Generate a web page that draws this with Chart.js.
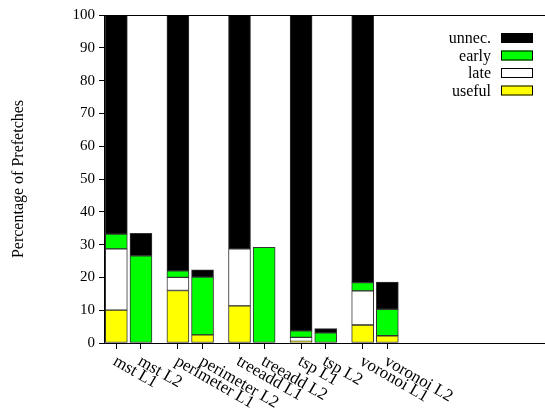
<!DOCTYPE html>
<html>
<head>
<meta charset="utf-8">
<script src="https://cdn.jsdelivr.net/npm/chart.js@4/dist/chart.umd.min.js"></script>
<style>
  body { margin: 0; background: #fff; }
</style>
</head>
<body>
<canvas id="grafica" width="545" height="408"></canvas>
<script>
var grupos = ['mst', 'perimeter', 'treeadd', 'tsp', 'voronoi'];
var niveles = ['L1', 'L2'];
var yTicks = [0, 10, 20, 30, 40, 50, 60, 70, 80, 90, 100];

var useful = [10, 0, 16, 2.5, 11.3, 0, 0.5, 0, 5.5, 2.2];
var late = [18.7, 0, 4, 0, 17.4, 0, 1.2, 0, 10.4, 0];
var early = [4.5, 26.6, 2, 17.6, 0, 29.2, 2.0, 3.1, 2.5, 8.1];
var unnec = [66.8, 6.8, 78, 2.2, 71.3, 0, 96.3, 1.3, 81.6, 8.3];

var fuente = '"Liberation Serif", "Times New Roman", serif';

// posiciones de cada barra: pares L1/L2 separados por un hueco
var nombres = [];
var posiciones = [];
grupos.forEach(function(g, gi) {
  niveles.forEach(function(n, ni) {
    nombres.push(g + ' ' + n);
    posiciones.push(gi * 2.5 + ni);
  });
});

function serie(valores) {
  return valores.map(function(v, i) {
    return { x: posiciones[i], y: v };
  });
}

var datasets = [
  { label: 'useful', data: serie(useful), backgroundColor: '#ffff00' },
  { label: 'late', data: serie(late), backgroundColor: '#ffffff' },
  { label: 'early', data: serie(early), backgroundColor: '#00ff00' },
  { label: 'unnec.', data: serie(unnec), backgroundColor: '#000000' }
].map(function(d) {
  d.borderColor = '#333333';
  d.borderWidth = 1;
  d.borderSkipped = false;
  d.barThickness = 22;
  return d;
});

var extras = {
  id: 'extras',
  afterDraw: function(chart) {
    var ctx = chart.ctx;
    var area = chart.chartArea;
    var xs = chart.scales.x;

    // linea superior del marco
    ctx.save();
    ctx.strokeStyle = '#000';
    ctx.lineWidth = 1;
    ctx.beginPath();
    ctx.moveTo(area.left, area.top + 0.5);
    ctx.lineTo(area.right, area.top + 0.5);
    ctx.stroke();

    // etiquetas giradas del eje X
    ctx.font = '17px ' + fuente;
    ctx.fillStyle = '#000';
    ctx.textAlign = 'left';
    ctx.textBaseline = 'alphabetic';
    nombres.forEach(function(nombre, i) {
      var px = xs.getPixelForValue(posiciones[i]);
      ctx.save();
      ctx.translate(px - 4, area.bottom + 21);
      ctx.rotate(30 * Math.PI / 180);
      ctx.fillText(nombre, 0, 0);
      ctx.restore();
    });

    // leyenda (de arriba hacia abajo: unnec., early, late, useful)
    ctx.font = '16px ' + fuente;
    ctx.textAlign = 'right';
    ctx.textBaseline = 'middle';
    var sets = chart.data.datasets;
    for (var k = 0; k < sets.length; k++) {
      var ds = sets[sets.length - 1 - k];
      var cy = area.top + 23 + k * 17.5;
      ctx.fillStyle = '#000';
      ctx.fillText(ds.label, area.right - 54, cy + 1);
      ctx.fillStyle = ds.backgroundColor;
      ctx.fillRect(area.right - 44, cy - 5, 32, 10);
      ctx.strokeStyle = '#000';
      ctx.strokeRect(area.right - 43.5, cy - 4.5, 31, 9);
    }
    ctx.restore();
  }
};

new Chart(document.getElementById('grafica').getContext('2d'), {
  type: 'bar',
  data: { datasets: datasets },
  options: {
    responsive: false,
    animation: false,
    layout: { padding: { top: 15, right: 0, left: 0, bottom: 0 } },
    plugins: {
      legend: { display: false },
      tooltip: { enabled: false }
    },
    scales: {
      x: {
        type: 'linear',
        stacked: true,
        offset: false,
        min: -0.5,
        max: 17.4,
        afterBuildTicks: function(scale) {
          scale.ticks = posiciones.map(function(p) { return { value: p }; });
        },
        afterFit: function(scale) {
          scale.height = 65;
        },
        border: { color: '#000', width: 1 },
        grid: { drawOnChartArea: false, offset: false, tickLength: 6, tickColor: '#000' },
        ticks: { display: false }
      },
      y: {
        stacked: true,
        min: 0,
        max: 100,
        afterBuildTicks: function(scale) {
          scale.ticks = yTicks.map(function(v) { return { value: v }; });
        },
        afterFit: function(scale) {
          scale.width = 104;
        },
        border: { color: '#000', width: 1 },
        grid: { drawOnChartArea: false, tickLength: 5, tickColor: '#000' },
        ticks: {
          color: '#000',
          padding: 4,
          font: { family: fuente, size: 15 }
        },
        title: {
          display: true,
          text: 'Percentage of Prefetches',
          color: '#000',
          padding: { top: 9, bottom: 18 },
          font: { family: fuente, size: 16 }
        }
      }
    }
  },
  plugins: [extras]
});
</script>
</body>
</html>
